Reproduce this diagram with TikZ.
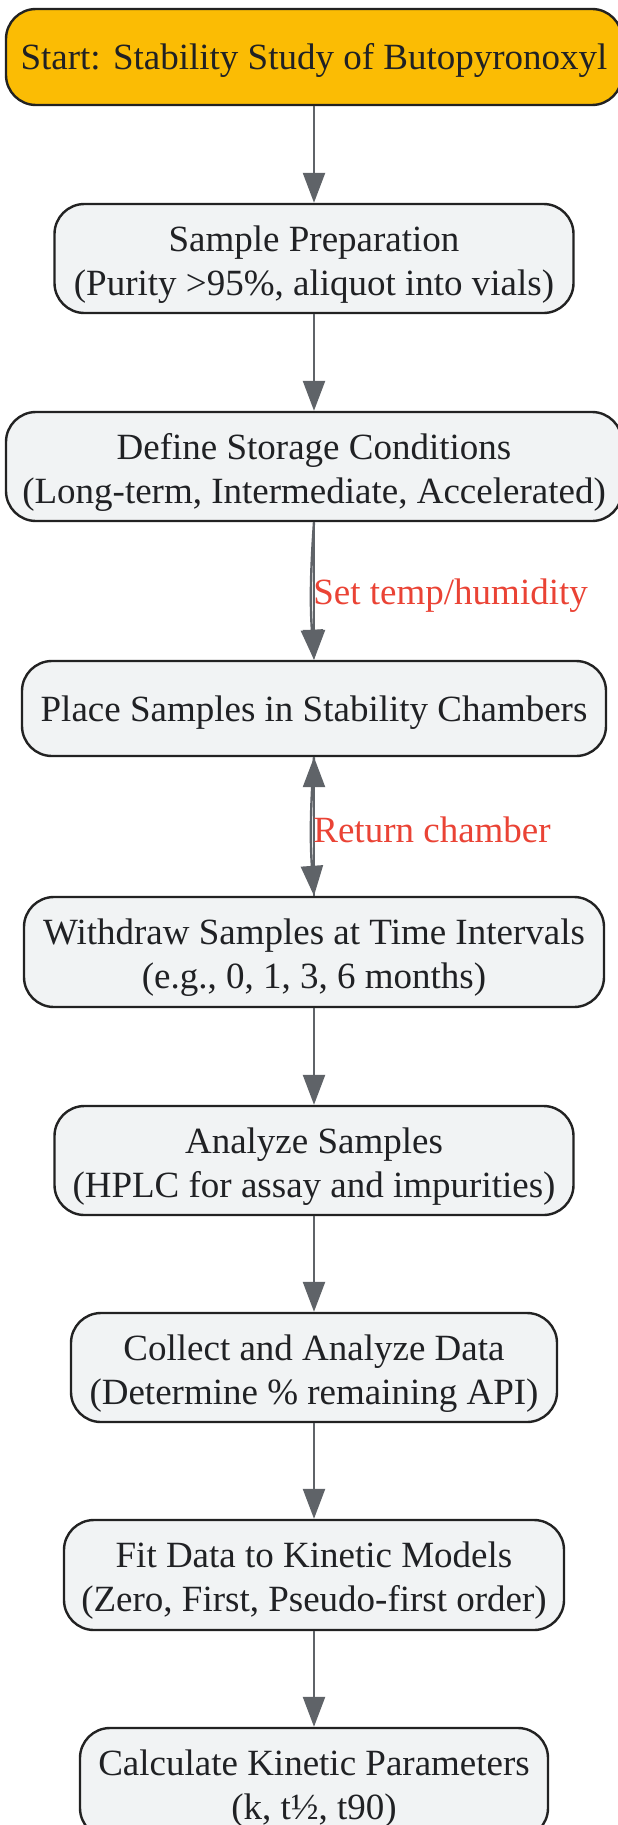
\documentclass[tikz,border=0pt]{standalone}
\usepackage{fontspec}
\setmainfont{Liberation Serif}
\usetikzlibrary{arrows.meta}
\definecolor{startfill}{HTML}{FBBC04}
\definecolor{boxfill}{HTML}{F1F3F4}
\definecolor{boxline}{HTML}{222222}
\definecolor{arrowcol}{HTML}{5F6368}
\definecolor{lblred}{HTML}{EA4335}
\definecolor{txtcol}{HTML}{202124}
\begin{document}
\begin{tikzpicture}[x=1pt,y=1pt,
  txt/.style={align=center, inner sep=0pt, text=txtcol, font=\fontsize{37pt}{44pt}\selectfont},
  stepbox/.style={draw=boxline, line width=2.4pt, fill=boxfill, rounded corners=30pt, inner sep=0pt},
  startbox/.style={stepbox, fill=startfill},
  arr/.style={draw=arrowcol, line width=2.4pt, -{Triangle[length=30pt,width=22pt]}},
  lbl/.style={text=lblred, inner sep=0pt, font=\fontsize{37pt}{44pt}\selectfont}]
\useasboundingbox (0,0) rectangle (618,-1825);
\node[startbox, minimum width=616pt, minimum height=96pt, label={[txt, yshift=-3pt]center:Start: Stability Study of Butopyronoxyl}] (n1) at (314,-57) {};
\node[stepbox, minimum width=519pt, minimum height=109pt, label={[txt, yshift=-6pt]center:Sample Preparation\\(Purity >95\%, aliquot into vials)}] (n2) at (314,-258.5) {};
\node[stepbox, minimum width=616pt, minimum height=109pt, label={[txt, yshift=-6pt]center:Define Storage Conditions\\(Long-term, Intermediate, Accelerated)}] (n3) at (314,-466.5) {};
\node[stepbox, minimum width=584pt, minimum height=95pt, label={[txt, yshift=-4.5pt]center:Place Samples in Stability Chambers}] (n4) at (314,-708.5) {};
\node[stepbox, minimum width=580pt, minimum height=110pt, label={[txt, yshift=-6pt]center:Withdraw Samples at Time Intervals\\(e.g., 0, 1, 3, 6 months)}] (n5) at (314,-952) {};
\node[stepbox, minimum width=519pt, minimum height=109pt, label={[txt, yshift=-6pt]center:Analyze Samples\\(HPLC for assay and impurities)}] (n6) at (314,-1160.5) {};
\node[stepbox, minimum width=486pt, minimum height=109pt, label={[txt, yshift=-6pt]center:Collect and Analyze Data\\(Determine \% remaining API)}] (n7) at (314,-1367.5) {};
\node[stepbox, minimum width=500pt, minimum height=110pt, label={[txt, yshift=-6pt]center:Fit Data to Kinetic Models\\(Zero, First, Pseudo-first order)}] (n8) at (314,-1575) {};
\node[stepbox, minimum width=468pt, minimum height=110pt, label={[txt, yshift=-6pt]center:Calculate Kinetic Parameters\\(k, t½, t90)}] (n9) at (314,-1783) {};
\draw[arr] (n1.south) -- (n2.north);
\draw[arr] (n2.south) -- (n3.north);
\draw[arr] (n3.south) -- (n4.north);
\draw[arr] (n3.south) to[bend right=4] node[lbl, pos=0.5, anchor=west, xshift=1pt, yshift=-5pt] (l1) {Set temp/humidity} (n4.north);
\draw[arr] (n5.north) -- (n4.south);
\draw[arr] (n4.south) to[bend right=4] node[lbl, pos=0.5, anchor=west, xshift=1pt, yshift=-3pt] (l2) {Return chamber} (n5.north);
\draw[arr] (n5.south) -- (n6.north);
\draw[arr] (n6.south) -- (n7.north);
\draw[arr] (n7.south) -- (n8.north);
\draw[arr] (n8.south) -- (n9.north);
\end{tikzpicture}
\end{document}
